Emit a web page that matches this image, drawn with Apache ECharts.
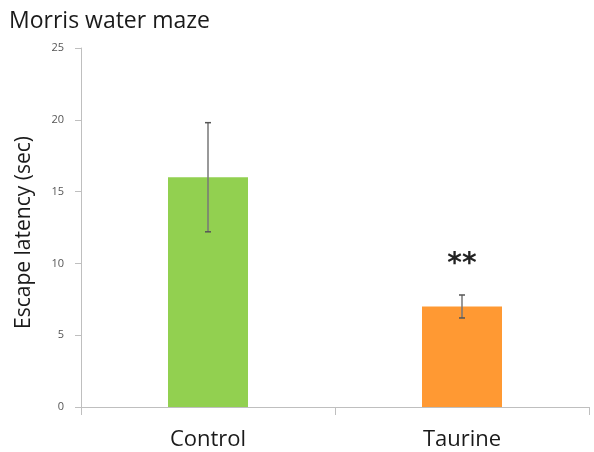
<!DOCTYPE html>
<html><head><meta charset="utf-8">
<script src="https://cdn.jsdelivr.net/npm/echarts@6/dist/echarts.min.js"></script>
<style>html,body{margin:0;padding:0;background:#fff}#c{width:594px;height:452px}</style>
</head><body><div id="c"></div>
<script>
const categories = ['Control', 'Taurine'];
const means = [16.0, 7.0];
const errors = [3.8, 0.8];
const significance = ['', '**'];
const barColors = ['#92D050', '#FF9933'];
const yTicks = [0, 5, 10, 15, 20, 25];

const chart = echarts.init(document.getElementById('c'), null, {renderer: 'canvas'});
const errData = categories.map((c, i) => [i, means[i] - errors[i], means[i] + errors[i], significance[i]]);
chart.setOption({
  animation: false,
  title: {text: 'Morris water maze', left: 4, top: 5,
    textStyle: {fontFamily: 'Open Sans', fontSize: 23, fontWeight: 'normal', color: '#1a1a1a'}},
  grid: {left: 81, right: 5, top: 48, bottom: 45},
  xAxis: {type: 'category', data: categories,
    axisLine: {lineStyle: {color: '#bfbfbf'}},
    axisTick: {show: true, alignWithLabel: false, length: 8, lineStyle: {color: '#bfbfbf'}},
    axisLabel: {fontFamily: 'Open Sans', fontSize: 22, color: '#1a1a1a', margin: 22}},
  yAxis: {type: 'value', min: yTicks[0], max: yTicks[yTicks.length - 1], interval: 5,
    name: 'Escape latency (sec)', nameLocation: 'middle', nameGap: 46,
    nameTextStyle: {fontFamily: 'Open Sans', fontSize: 21, color: '#1a1a1a', padding: [0, 0, 0, -10]},
    axisLine: {show: true, lineStyle: {color: '#bfbfbf'}},
    axisTick: {show: true, length: 6, lineStyle: {color: '#bfbfbf'}},
    splitLine: {show: false},
    axisLabel: {fontFamily: 'Open Sans', fontSize: 11, color: '#555', margin: 17}},
  series: [
    {type: 'bar', barWidth: 80,
     data: means.map((v, i) => ({value: v, itemStyle: {color: barColors[i]}}))},
    {type: 'custom', data: errData, z: 10,
     renderItem: function (params, api) {
       const x = api.value(0);
       const lo = api.coord([x, api.value(1)]);
       const hi = api.coord([x, api.value(2)]);
       const cap = 3;
       const style = {stroke: '#555', lineWidth: 1.5};
       const children = [
         {type: 'line', shape: {x1: lo[0], y1: lo[1], x2: hi[0], y2: hi[1]}, style: {stroke: '#777', lineWidth: 1.5}},
         {type: 'line', shape: {x1: lo[0] - cap, y1: lo[1], x2: lo[0] + cap, y2: lo[1]}, style: style},
         {type: 'line', shape: {x1: hi[0] - cap, y1: hi[1], x2: hi[0] + cap, y2: hi[1]}, style: style}
       ];
       const s = api.value(3);
       if (s) {
         children.push({type: 'text', style: {text: s, x: hi[0], y: hi[1] - 30,
           align: 'center', verticalAlign: 'middle', fontFamily: 'DejaVu Sans', fontSize: 28, fontWeight: 'bold', fill: '#222'}});
       }
       return {type: 'group', children: children};
     }}
  ]
});
</script></body></html>
